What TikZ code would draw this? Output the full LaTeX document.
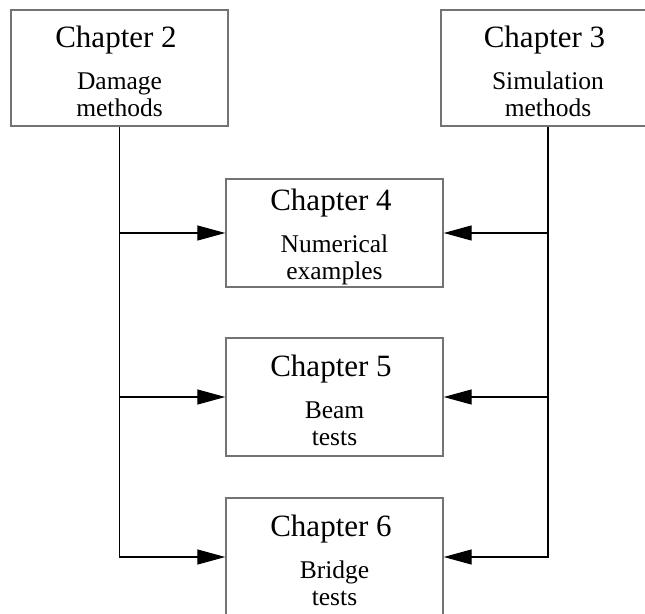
\documentclass[tikz,border=0pt]{standalone}
\usepackage{fontspec}
\setmainfont{Liberation Serif}
\usetikzlibrary{arrows.meta}

\newcommand{\chapline}[1]{{\fontsize{31}{36}\selectfont\rule{0pt}{29pt}#1\hspace*{7pt}}\\[15pt]}

\begin{document}
\begin{tikzpicture}[x=1pt, y=-1pt,
    chapbox/.style={draw=black!55, line width=1.4pt, minimum width=217pt, minimum height=116pt, align=center, inner sep=0pt,
        font=\fontsize{25.5}{27}\selectfont},
    feed/.style={line width=1.2pt, -{Triangle[length=28pt, width=15pt]}}]
    \useasboundingbox (0,0) rectangle (645,613);

    % Source chapters (top row)
    \node[chapbox] (ch2) at (119.5, 68) {\chapline{Chapter 2}Damage\\methods};
    \node[chapbox, minimum width=214pt] (ch3) at (548, 68) {\chapline{Chapter 3}Simulation\\methods};

    % Applied chapters (middle column)
    \node[chapbox, minimum height=108pt] (ch4) at (334.5, 233) {\chapline{Chapter 4}Numerical\\examples};
    \node[chapbox, minimum height=118pt] (ch5) at (334.5, 397) {\chapline{Chapter 5}Beam\\tests};
    \node[chapbox, minimum height=118pt] (ch6) at (334.5, 557) {\chapline{Chapter 6}Bridge\\tests};

    % Left trunk from Chapter 2
    \draw[feed] (ch2.south) -- (ch2.south |- ch6.west) -- (ch6.west);
    \draw[feed] (ch2.south |- ch4.west) -- (ch4.west);
    \draw[feed] (ch2.south |- ch5.west) -- (ch5.west);

    % Right trunk from Chapter 3
    \draw[feed] (ch3.south) -- (ch3.south |- ch6.east) -- (ch6.east);
    \draw[feed] (ch3.south |- ch4.east) -- (ch4.east);
    \draw[feed] (ch3.south |- ch5.east) -- (ch5.east);
\end{tikzpicture}
\end{document}
